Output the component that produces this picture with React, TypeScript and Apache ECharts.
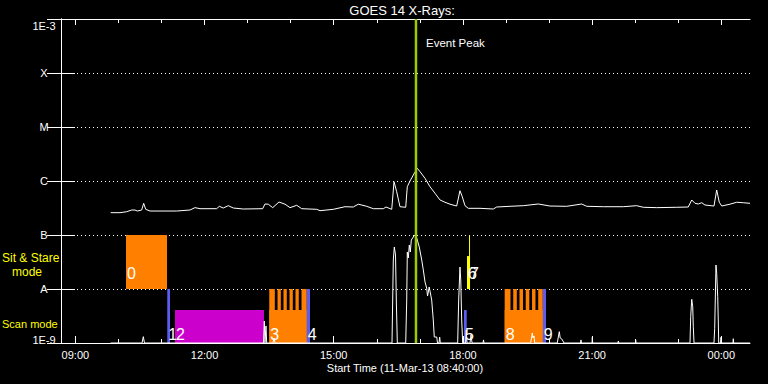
import React, { useEffect, useRef } from "react";
import * as echarts from "echarts";

// ---- time base: minutes since Start Time 11-Mar-13 08:40:00 ----
const startOfDayMin = 520; // 08:40
const spanMin = 960; // 16 hours shown

// x ticks (minutes since start): every whole hour, labelled every 3 hours
const hourTicks = [20, 80, 140, 200, 260, 320, 380, 440, 500, 560, 620, 680, 740, 800, 860, 920];
const labelTicks = [20, 200, 380, 560, 740, 920];

// y axis labels (log10 flux -> GOES class)
const yLabelExps = [-9, -8, -7, -6, -5, -4, -3];
const yLabelTexts = ["1E-9", "A", "B", "C", "M", "X", "1E-3"];

// GOES 14 long channel (1-8 A), W/m^2
const longTime = [69.2, 82.2, 91.5, 98.5, 103.1, 106.3, 112.4, 115.2, 118.0, 124.0, 161.2, 179.7, 186.7, 193.7, 216.9, 220.6, 226.1, 233.1, 240.1, 254.0, 281.0, 284.2, 288.8, 295.0, 303.7, 312.1, 319.1, 328.4, 335.4, 356.3, 360.9, 379.4, 395.7, 407.3, 414.2, 425.9, 435.1, 449.1, 452.8, 460.8, 464.0, 467.7, 472.3, 480.3, 482.5, 486.3, 490.9, 496.4, 500.2, 507.2, 514.1, 521.1, 528.1, 535.0, 542.0, 551.3, 555.9, 559.1, 562.9, 567.5, 583.8, 602.3, 607.1, 625.6, 644.1, 665.0, 681.3, 704.6, 725.5, 732.5, 755.6, 783.5, 802.1, 811.3, 830.0, 857.9, 874.0, 878.8, 883.4, 888.0, 892.7, 897.3, 909.8, 913.6, 917.2, 920.6, 932.1, 941.5, 950.7, 960.0];
const longFlux = [2.59e-7, 2.59e-7, 2.7e-7, 2.9e-7, 2.9e-7, 2.78e-7, 2.9e-7, 3.86e-7, 2.99e-7, 2.78e-7, 2.78e-7, 2.9e-7, 3.21e-7, 3.07e-7, 3.07e-7, 3.4e-7, 3.16e-7, 3.49e-7, 3.16e-7, 3.03e-7, 3.07e-7, 3.75e-7, 3.72e-7, 3.21e-7, 4.08e-7, 3.72e-7, 3.21e-7, 3.55e-7, 3.07e-7, 2.99e-7, 2.82e-7, 2.99e-7, 3.34e-7, 3.3e-7, 3.72e-7, 3.4e-7, 3.07e-7, 3.07e-7, 3.3e-7, 2.99e-7, 9.7e-7, 6.34e-7, 3.34e-7, 3.26e-7, 7.84e-7, 1.0e-6, 1.29e-6, 1.72e-6, 1.49e-6, 1.12e-6, 7.84e-7, 5.92e-7, 4.45e-7, 4.04e-7, 3.72e-7, 3.44e-7, 6.61e-7, 5.12e-7, 3.49e-7, 3.12e-7, 3.12e-7, 3.03e-7, 3.3e-7, 3.4e-7, 3.49e-7, 3.75e-7, 3.44e-7, 3.4e-7, 3.75e-7, 3.4e-7, 3.34e-7, 3.34e-7, 3.49e-7, 3.26e-7, 3.21e-7, 3.26e-7, 3.3e-7, 4.45e-7, 3.86e-7, 3.75e-7, 3.96e-7, 3.59e-7, 3.44e-7, 6.81e-7, 4.04e-7, 3.44e-7, 3.72e-7, 4.04e-7, 3.96e-7, 3.86e-7];

// GOES 14 short channel (0.5-4 A), W/m^2 (floor at 1E-9)
const shortTime = [69.2, 112.9, 114.7, 116.3, 282.1, 283.3, 284.2, 285.6, 286.6, 295.4, 296.8, 298.2, 461.2, 463.0, 464.4, 466.1, 467.2, 468.6, 480.3, 481.7, 482.5, 483.9, 485.3, 486.7, 488.1, 490.9, 492.3, 495.6, 499.2, 502.6, 504.8, 507.2, 509.5, 510.7, 511.8, 513.0, 514.1, 516.5, 518.7, 520.1, 523.5, 524.6, 526.7, 527.6, 528.5, 552.7, 554.1, 555.9, 557.0, 558.3, 559.7, 563.6, 564.7, 565.7, 569.9, 571.3, 572.7, 588.0, 588.7, 589.4, 654.4, 655.6, 656.7, 657.6, 659.0, 660.0, 691.5, 693.2, 694.3, 695.5, 697.6, 699.4, 700.8, 723.8, 724.5, 725.2, 739.9, 740.3, 740.8, 776.1, 776.5, 777.1, 800.5, 800.7, 801.2, 876.4, 877.4, 878.8, 880.2, 881.0, 882.0, 909.8, 910.8, 912.6, 913.6, 915.0, 915.8, 916.4, 918.9, 919.6, 920.3, 936.3, 936.7, 937.3, 960.0];
const shortFlux = [1e-9, 1e-9, 1.31e-9, 1e-9, 1e-9, 2.55e-9, 1e-9, 2.07e-9, 1e-9, 1e-9, 1.24e-9, 1e-9, 1e-9, 3.44e-8, 6.0e-8, 4.27e-8, 6.25e-9, 1e-9, 1e-9, 6.25e-9, 4.84e-8, 3.75e-8, 6.53e-8, 4.84e-8, 8.07e-8, 9.18e-8, 1.0e-7, 8.79e-8, 6.0e-8, 3.44e-8, 2.25e-8, 1.35e-8, 1.04e-8, 7.41e-9, 8.79e-9, 1.09e-8, 9.18e-9, 6.25e-9, 2.67e-9, 1.29e-9, 1.29e-9, 1e-9, 1e-9, 1.29e-9, 1e-9, 1e-9, 6.25e-9, 2.55e-8, 1.47e-8, 2.67e-9, 1e-9, 1e-9, 1.74e-9, 1e-9, 1e-9, 1.41e-9, 1e-9, 1e-9, 1.14e-9, 1e-9, 1e-9, 1.24e-9, 1.53e-9, 1.24e-9, 1.35e-9, 1e-9, 1e-9, 1.35e-9, 1.62e-9, 1.24e-9, 1.19e-9, 1.09e-9, 1e-9, 1e-9, 1.14e-9, 1e-9, 1e-9, 1.28e-9, 1e-9, 1e-9, 1.09e-9, 1e-9, 1e-9, 1.14e-9, 1e-9, 1e-9, 3.07e-9, 6.44e-9, 4.7e-9, 2.0e-9, 1e-9, 1e-9, 1.87e-9, 2.78e-8, 1.95e-8, 7.2e-9, 2.67e-9, 1e-9, 1e-9, 1.28e-9, 1e-9, 1e-9, 1.2e-9, 1e-9, 1e-9];

// Event peak (minutes since start)
const eventPeakTime = 494.6;

// Observation blocks
const obsLabel = ["0", "1", "2", "3", "4", "5", "6", "7", "8", "9"];
const obsStart = [90.6, 148.1, 158.8, 290.2, 342.3, 561.5, 565.7, 568.5, 618.2, 671.2];
const obsEnd = [147.7, 151.9, 282.8, 342.3, 346.9, 565.3, 569.9, 569.9, 671.2, 675.8];
const obsMode = ["sit", "scan", "scan", "scan", "scan", "scan", "sit", "sit", "scan", "scan"];
const obsFill = [1, 1, 0.61, 0.61, 1, 0.61, 0.61, 1, 0.61, 1];
const obsColor = ["orange", "blue", "magenta", "orange", "blue", "blue", "yellow", "yellow", "orange", "blue"];
// full-height raster steps inside scans 3 and 8
const rasterStart = [290.2, 301.7, 310.0, 318.4, 326.7, 335.1, 618.2, 630.1, 638.8, 647.5, 656.3, 664.9];
const rasterEnd = [297.9, 306.3, 314.6, 323.0, 331.3, 342.3, 626.3, 635.1, 643.7, 652.5, 661.1, 671.2];

const palette: Record<string, string> = {
  orange: "#ff8000",
  blue: "#5c5cf2",
  magenta: "#cc00cc",
  yellow: "#ffff00",
};
const rowBottom: Record<string, number> = { sit: 1e-8, scan: 1e-9 };

const white = "#ffffff";
const font = "Liberation Sans";

const fmtClock = (v: number) => {
  const t = Math.round(startOfDayMin + v) % 1440;
  const h = Math.floor(t / 60);
  const m = t % 60;
  return `${String(h).padStart(2, "0")}:${String(m).padStart(2, "0")}`;
};

function buildOption() {
  const blockData = obsStart.map((s, i) => {
    const b = rowBottom[obsMode[i]];
    return [s, obsEnd[i], b, b * Math.pow(10, obsFill[i]), i];
  });
  const rasterData = rasterStart.map((s, j) => [s, rasterEnd[j], 1e-9, 1e-8]);
  const labelData = obsStart.map((s, i) => [s, rowBottom[obsMode[i]], i]);

  const xBase: any = { type: "value", min: 0, max: spanMin, splitLine: { show: false } };
  const yBase: any = { type: "log", logBase: 10, min: 1e-9, max: 1e-3 };

  const rectRender = (colorOf: (p: any, api: any) => string) => (params: any, api: any) => {
    const p0 = api.coord([api.value(0), api.value(3)]);
    const p1 = api.coord([api.value(1), api.value(2)]);
    return {
      type: "rect",
      shape: { x: p0[0], y: p0[1], width: p1[0] - p0[0], height: p1[1] - p0[1] },
      style: { fill: colorOf(params, api) },
    };
  };

  return {
    animation: false,
    backgroundColor: "#000000",
    grid: { left: 61, right: 18, top: 19, bottom: 41, containLabel: false, outerBoundsMode: "none" },
    xAxis: [
      {
        ...xBase,
        position: "bottom",
        axisLine: { show: true, lineStyle: { color: white, width: 1 } },
        axisTick: { show: true, inside: true, length: 7, customValues: labelTicks, lineStyle: { color: white } },
        axisLabel: { show: true, customValues: labelTicks, formatter: fmtClock, color: white, fontFamily: font, fontSize: 11, margin: 6 },
      },
      {
        ...xBase,
        position: "bottom",
        axisLine: { show: false },
        axisTick: { show: true, inside: true, length: 4, customValues: hourTicks, lineStyle: { color: white } },
        axisLabel: { show: false },
      },
      {
        ...xBase,
        position: "top",
        axisLine: { show: true, lineStyle: { color: white, width: 1 } },
        axisTick: { show: true, inside: true, length: 6, customValues: labelTicks, lineStyle: { color: white } },
        axisLabel: { show: false },
      },
      {
        ...xBase,
        position: "top",
        axisLine: { show: false },
        axisTick: { show: true, inside: true, length: 4, customValues: hourTicks, lineStyle: { color: white } },
        axisLabel: { show: false },
      },
    ],
    yAxis: [
      {
        ...yBase,
        position: "left",
        axisLine: { show: true, lineStyle: { color: white, width: 1 } },
        axisTick: { show: true, inside: true, length: 14, lineStyle: { color: white } },
        axisLabel: {
          show: true,
          color: white,
          fontFamily: font,
          fontSize: 11,
          align: "center",
          margin: 17,
          formatter: (v: number) => {
            const e = Math.round(Math.log10(v));
            const i = yLabelExps.indexOf(e);
            if (i < 0) return "";
            if (i === yLabelExps.length - 1) return `{top|${yLabelTexts[i]}}`;
            if (i === 0) return `{bot|${yLabelTexts[i]}}`;
            return yLabelTexts[i];
          },
          rich: {
            top: { color: white, fontFamily: font, fontSize: 11, padding: [13, 0, 0, 0] },
            bot: { color: white, fontFamily: font, fontSize: 11, padding: [0, 0, 6, 0] },
          },
        },
        splitLine: { show: true, lineStyle: { color: white, width: 1, type: [1, 3] } },
      },
      {
        ...yBase,
        position: "right",
        axisLine: { show: true, lineStyle: { color: white, width: 1 } },
        axisTick: { show: true, inside: true, length: 14, lineStyle: { color: white } },
        axisLabel: { show: false },
        splitLine: { show: false },
      },
    ],
    series: [
      {
        type: "custom",
        name: "blocks",
        xAxisIndex: 0,
        yAxisIndex: 0,
        silent: true,
        encode: { x: [0, 1], y: [2, 3] },
        data: blockData,
        renderItem: rectRender((p: any) => palette[obsColor[p.dataIndex]]),
        z: 2,
      },
      {
        type: "custom",
        name: "rasters",
        xAxisIndex: 0,
        yAxisIndex: 0,
        silent: true,
        encode: { x: [0, 1], y: [2, 3] },
        data: rasterData,
        renderItem: rectRender(() => palette.orange),
        z: 2,
      },
      {
        type: "line",
        name: "GOES 14 long",
        xAxisIndex: 0,
        yAxisIndex: 0,
        data: longTime.map((t, i) => [t, longFlux[i]]),
        symbol: "none",
        showSymbol: false,
        silent: true,
        lineStyle: { color: white, width: 1 },
        z: 3,
      },
      {
        type: "line",
        name: "GOES 14 short",
        xAxisIndex: 0,
        yAxisIndex: 0,
        data: shortTime.map((t, i) => [t, shortFlux[i]]),
        symbol: "none",
        showSymbol: false,
        silent: true,
        lineStyle: { color: white, width: 1 },
        z: 3,
      },
      {
        type: "custom",
        name: "labels",
        xAxisIndex: 0,
        yAxisIndex: 0,
        silent: true,
        encode: { x: 0, y: 1 },
        data: labelData,
        renderItem: (params: any, api: any) => {
          const i = params.dataIndex;
          const p = api.coord([api.value(0), api.value(1)]);
          const off = obsMode[i] === "sit" ? 7.5 : 0.5;
          return {
            type: "text",
            x: p[0] + 1,
            y: p[1] - off,
            style: {
              text: obsLabel[i],
              fill: white,
              fontFamily: font,
              fontSize: 16,
              align: "left",
              verticalAlign: "bottom",
            },
          };
        },
        z: 4,
      },
      {
        type: "line",
        name: "Event Peak",
        xAxisIndex: 0,
        yAxisIndex: 0,
        data: [
          [eventPeakTime, 1e-9],
          [eventPeakTime, 1e-3],
        ],
        symbol: "none",
        showSymbol: false,
        silent: true,
        lineStyle: { color: "#9acd00", width: 2.5 },
        z: 5,
      },
    ],
    graphic: [
      {
        type: "text",
        x: 402,
        y: 10,
        style: { text: "GOES 14 X-Rays:", fill: white, fontFamily: font, fontSize: 13, align: "center", verticalAlign: "middle" },
      },
      {
        type: "text",
        x: 405,
        y: 368,
        style: { text: "Start Time (11-Mar-13 08:40:00)", fill: white, fontFamily: font, fontSize: 11, align: "center", verticalAlign: "middle" },
      },
      {
        type: "text",
        x: 426,
        y: 43,
        style: { text: "Event Peak", fill: white, fontFamily: font, fontSize: 11.5, align: "left", verticalAlign: "middle" },
      },
      {
        type: "text",
        x: 2,
        y: 258,
        style: { text: "Sit & Stare", fill: "#ffff00", fontFamily: font, fontSize: 12, align: "left", verticalAlign: "middle" },
      },
      {
        type: "text",
        x: 12,
        y: 272,
        style: { text: "mode", fill: "#ffff00", fontFamily: font, fontSize: 12, align: "left", verticalAlign: "middle" },
      },
      {
        type: "text",
        x: 2,
        y: 324,
        style: { text: "Scan mode", fill: "#ffff00", fontFamily: font, fontSize: 11, align: "left", verticalAlign: "middle" },
      },
    ],
  };
}

export default function App() {
  const ref = useRef<HTMLDivElement>(null);
  useEffect(() => {
    if (!ref.current) return;
    const chart = echarts.init(ref.current, null, { renderer: "svg" });
    chart.setOption(buildOption() as any);
    return () => chart.dispose();
  }, []);
  return (
    <div
      ref={ref}
      style={{ position: "fixed", left: 0, top: 0, width: 768, height: 384, background: "#000000" }}
    />
  );
}
